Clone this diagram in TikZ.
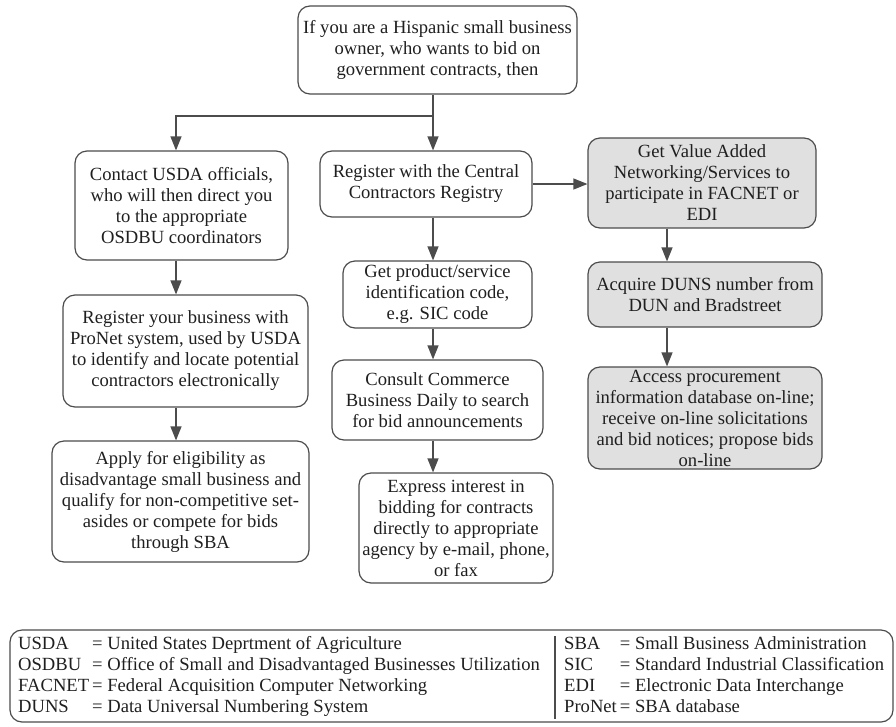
\documentclass[tikz,border=0pt]{standalone}
\usepackage{fontspec}
\setmainfont{Liberation Serif}
\usetikzlibrary{arrows.meta}
\definecolor{boxline}{gray}{0.3}
\definecolor{boxfill}{gray}{0.88}
\definecolor{txt}{gray}{0.12}
\tikzset{
  stepbox/.style={draw=boxline, line width=1.2pt, rounded corners=12pt, align=center,
    inner sep=2pt, text=txt, font=\fontsize{18.6}{21}\selectfont},
  graybox/.style={stepbox, fill=boxfill},
  arr/.style={draw=boxline, line width=1.2pt, -{Triangle[length=14pt,width=11pt]}},
  plainline/.style={draw=boxline, line width=1.2pt},
}
\begin{document}
\begin{tikzpicture}[x=1pt,y=-1pt]
\useasboundingbox (0,0) rectangle (896,726);
\node[stepbox, minimum width=279pt, minimum height=88pt] (top) at (437.5,50)
  {If you are a Hispanic small business\\owner, who wants to bid on\\government contracts, then};
% left column
\node[stepbox, minimum width=213pt, minimum height=109pt] (L1) at (181.5,205.5)
  {Contact USDA officials,\\who will then direct you\\to the appropriate\\OSDBU coordinators};
\node[stepbox, minimum width=245pt, minimum height=112pt] (L2) at (185.5,351)
  {Register your business with\\ProNet system, used by USDA\\to identify and locate potential\\contractors electronically};
\node[stepbox, minimum width=257pt, minimum height=121pt] (L3) at (180.5,501.5)
  {Apply for eligibility as\\disadvantage small business and\\qualify for non-competitive set-\\asides or compete for bids\\through SBA};
% middle column
\node[stepbox, minimum width=212pt, minimum height=66pt] (M1) at (426,184)
  {Register with the Central\\Contractors Registry};
\node[stepbox, minimum width=189pt, minimum height=67pt] (M2) at (437.5,294.5)
  {Get product/service\\identification code,\\e.g. SIC code};
\node[stepbox, minimum width=211pt, minimum height=80pt] (M3) at (437.5,400)
  {Consult Commerce\\Business Daily to search\\for bid announcements};
\node[stepbox, minimum width=194pt, minimum height=110pt] (M4) at (456,528)
  {Express interest in\\bidding for contracts\\directly to appropriate\\agency by e-mail, phone,\\or fax};
% right column
\node[graybox, minimum width=228pt, minimum height=90pt] (R1) at (702,183)
  {Get Value Added\\Networking/Services to\\participate in FACNET or\\EDI};
\node[graybox, minimum width=234pt, minimum height=65pt] (R2) at (705,294.5)
  {Acquire DUNS number from\\DUN and Bradstreet};
\node[graybox, minimum width=234pt, minimum height=102pt] (R3) at (705,418)
  {Access procurement\\information database on-line;\\receive on-line solicitations\\and bid notices; propose bids\\on-line};
% column coordinates
\coordinate (colL) at (176,0);
\coordinate (colM) at (433,0);
\coordinate (colR) at (667,0);
\coordinate (split) at (433,116);
% connectors
\draw[plainline] (top.south -| split) -- (split);
\draw[arr] (split) -- (split |- M1.north);
\draw[arr] (split) -| (colL |- L1.north);
\draw[arr] (colL |- L1.south) -- (colL |- L2.north);
\draw[arr] (colL |- L2.south) -- (colL |- L3.north);
\draw[arr] (colM |- M1.south) -- (colM |- M2.north);
\draw[arr] (colM |- M2.south) -- (colM |- M3.north);
\draw[arr] (colM |- M3.south) -- (colM |- M4.north);
\draw[arr] (M1.east) -- (M1.east -| R1.west);
\draw[arr] (colR |- R1.south) -- (colR |- R2.north);
\draw[arr] (colR |- R2.south) -- (colR |- R3.north);
% legend
\node[draw=boxline, line width=1.2pt, rounded corners=12pt, minimum width=883pt, minimum height=92pt] (leg) at (451.5,676) {};
\node[anchor=west, inner sep=0pt, text=txt, font=\fontsize{18.6}{21}\selectfont] (legA) at (18,677)
  {\begin{tabular}{@{}l@{\,}l@{}}
   USDA & = United States Deprtment of Agriculture\\
   OSDBU & = Office of Small and Disadvantaged Businesses Utilization\\
   FACNET & = Federal Acquisition Computer Networking\\
   DUNS & = Data Universal Numbering System
   \end{tabular}};
\node[anchor=west, inner sep=0pt, text=txt, font=\fontsize{18.6}{21}\selectfont] (legB) at (564,677)
  {\begin{tabular}{@{}l@{\,}l@{}}
   SBA & = Small Business Administration\\
   SIC & = Standard Industrial Classification\\
   EDI & = Electronic Data Interchange\\
   ProNet & = SBA database
   \end{tabular}};
\coordinate (divx) at (555,0);
\draw[plainline] ([yshift=-7pt]leg.north -| divx) -- ([yshift=4pt]leg.south -| divx);
\end{tikzpicture}
\end{document}
